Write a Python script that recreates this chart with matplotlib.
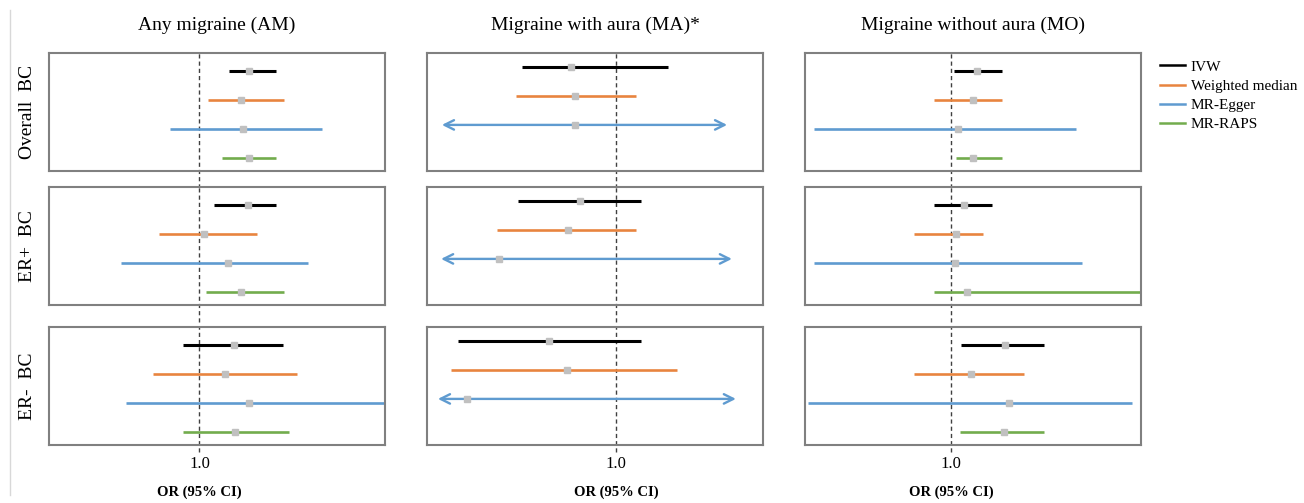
import numpy as np
import matplotlib
matplotlib.use("Agg")
import matplotlib.pyplot as plt
from matplotlib.lines import Line2D

plt.rcParams['font.family'] = ['Liberation Serif', 'DejaVu Serif']

outcomes = ["Any migraine (AM)", "Migraine with aura (MA)*", "Migraine without aura (MO)"]
subtypes = ["Overall  BC", "ER+  BC", "ER-  BC"]
methods = ["IVW", "Weighted median", "MR-Egger", "MR-RAPS"]
colors = ["#000000", "#e8843f", "#5f9bd0", "#72ac4d"]
nan = np.nan

# rows = subtypes, columns = methods
am_est = [[1.098, 1.082, 1.086, 1.098], [1.096, 1.010, 1.056, 1.082], [1.068, 1.050, 1.098, 1.070]]
am_lo = [[1.058, 1.018, 0.942, 1.044], [1.030, 0.920, 0.844, 1.014], [0.968, 0.908, 0.854, 0.968]]
am_hi = [[1.152, 1.168, 1.244, 1.152], [1.152, 1.114, 1.216, 1.168], [1.166, 1.194, 1.400, 1.178]]

ma_est = [[0.786, 0.805, 0.805, nan], [0.829, 0.771, 0.443, nan], [0.681, 0.767, 0.290, nan]]
ma_lo = [[0.552, 0.524, 0.171, nan], [0.533, 0.433, 0.167, nan], [0.248, 0.214, 0.152, nan]]
ma_hi = [[1.248, 1.095, 1.529, nan], [1.119, 1.095, 1.552, nan], [1.119, 1.290, 1.571, nan]]

mo_est = [[1.077, 1.065, 1.021, 1.065], [1.039, 1.015, 1.012, 1.048], [1.161, 1.060, 1.173, 1.158]]
mo_lo = [[1.009, 0.949, 0.592, 1.015], [0.949, 0.890, 0.592, 0.949], [1.030, 0.890, 0.574, 1.027]]
mo_hi = [[1.152, 1.152, 1.372, 1.152], [1.122, 1.095, 1.390, 1.600], [1.277, 1.217, 1.539, 1.277]]

# CI truncated -> drawn as double arrow
arrow_method = {1: "MR-Egger"}

est_all = [am_est, ma_est, mo_est]
lo_all = [am_lo, ma_lo, mo_lo]
hi_all = [am_hi, ma_hi, mo_hi]

xlims = [(0.7, 1.37), (0.1, 1.7), (0.565, 1.565)]
ytops = [4.62, 4.48, 4.62]

W, H = 1304, 503
fig = plt.figure(figsize=(W / 100, H / 100), dpi=100)

col_left = [49, 427, 805]
col_w = 336
row_top = [53, 187, 327]
row_h = 118

for c in range(3):
    for r in range(3):
        ax = fig.add_axes([col_left[c] / W, 1 - (row_top[r] + row_h) / H, col_w / W, row_h / H])
        ax.set_xlim(*xlims[c])
        ax.set_ylim(ytops[c] - 4.07, ytops[c])
        for m, name in enumerate(methods):
            e = est_all[c][r][m]
            if np.isnan(e):
                continue
            lo, hi = lo_all[c][r][m], hi_all[c][r][m]
            y = 4 - m
            if arrow_method.get(c) == name:
                ax.annotate('', xy=(hi, y), xytext=(lo, y),
                            arrowprops=dict(arrowstyle='<->', color=colors[m], lw=1.7,
                                            mutation_scale=17, shrinkA=0, shrinkB=0))
            else:
                ax.plot([lo, hi], [y, y], color=colors[m], lw=2.2 if m == 0 else 1.9,
                        solid_capstyle='butt', zorder=2)
            ax.plot(e, y, 's', color='#c0c0c0', ms=4.2, zorder=3)
        ext = -0.14 if r < 2 else -0.06
        ax.axvline(1.0, ymin=ext, ymax=1, color='#404040', lw=1, dashes=(3, 2.2),
                   clip_on=False, zorder=1)
        for s in ax.spines.values():
            s.set_color('#808080')
            s.set_linewidth(1.5)
        ax.set_yticks([])
        if r == 2:
            ax.set_xticks([1.0])
            ax.set_xticklabels(["1.0"], fontsize=12)
            ax.tick_params(axis='x', length=0, pad=8)
        else:
            ax.set_xticks([])
        if c == 0:
            ax.text(-21 / col_w, 0.5, subtypes[r], transform=ax.transAxes, rotation=90,
                    ha='center', va='center', fontsize=14)

    fig.text((col_left[c] + col_w / 2) / W, 1 - 25 / H, outcomes[c], ha='center',
             va='center', fontsize=14)
    x1 = col_left[c] + col_w * (1.0 - xlims[c][0]) / (xlims[c][1] - xlims[c][0])
    fig.text(x1 / W, 1 - 492 / H, "OR (95% CI)", ha='center', va='center',
             fontsize=10.5, fontweight='bold')

fig.add_artist(Line2D([10 / W, 10 / W], [1 - 10 / H, 1 - 495 / H], color='#d8d8d8', lw=1))

handles = [Line2D([], [], color=col, lw=1.8) for col in colors]
fig.legend(handles, methods, loc='upper left', bbox_to_anchor=(1154 / W, 1 - 54 / H),
           frameon=False, fontsize=11, handlelength=1.6, handletextpad=0.4,
           labelspacing=0.35, borderaxespad=0)

fig.savefig("out.png", dpi=100)
